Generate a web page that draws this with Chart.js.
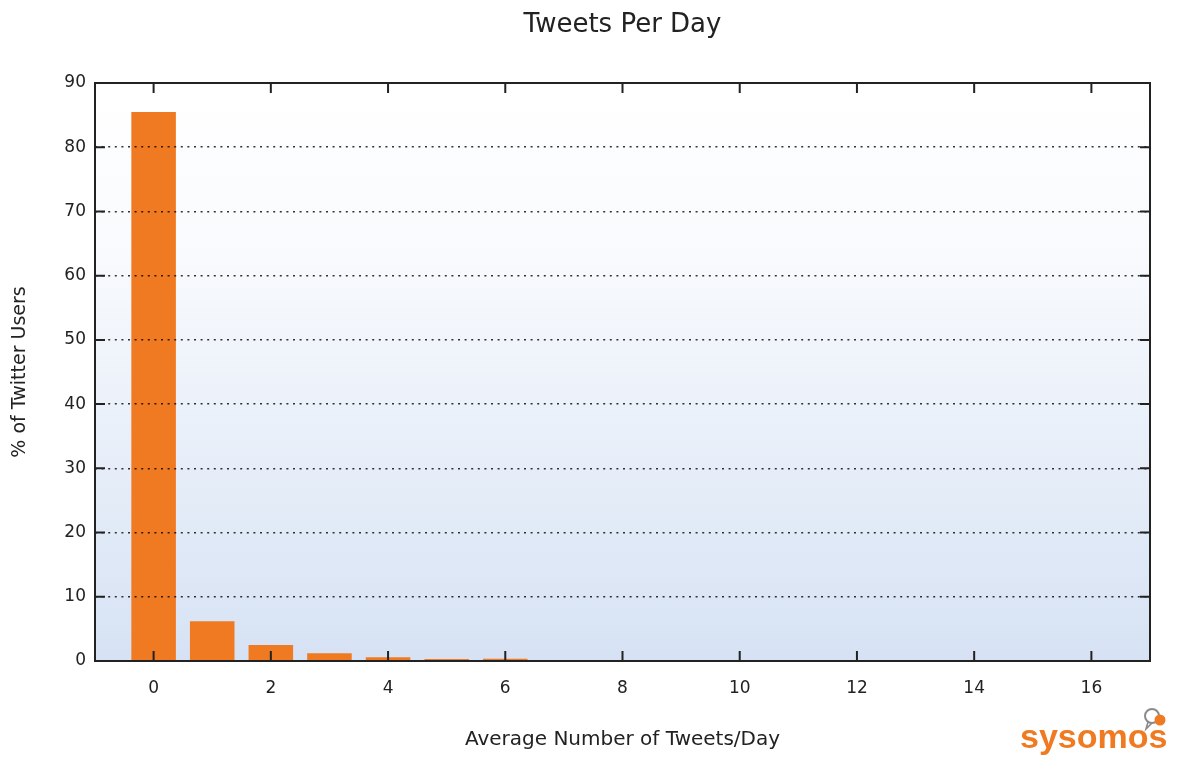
<!DOCTYPE html>
<html>
<head>
<meta charset="utf-8">
<script src="https://cdn.jsdelivr.net/npm/chart.js@4/dist/chart.umd.min.js"></script>
<style>
  html, body { margin: 0; padding: 0; background: #ffffff; }
  #wrap { position: relative; width: 1179px; height: 771px; }
  #logo { position: absolute; left: 1020px; top: 716px; font-family: "Liberation Sans", Arial, sans-serif; font-weight: bold; font-size: 34px; color: #F07A22; line-height: 40px; }
  #bubble { position: absolute; left: 1141px; top: 706px; }
</style>
</head>
<body>
<div id="wrap">
  <canvas id="c" width="1179" height="771"></canvas>
  <svg id="bubble" width="30" height="28" viewBox="0 0 30 28">
    <circle cx="11" cy="10" r="7" fill="none" stroke="#8a8a8a" stroke-width="2"/>
    <path d="M7 16 L5 23 L11 17" fill="none" stroke="#8a8a8a" stroke-width="1.6"/>
    <circle cx="19" cy="14" r="5.5" fill="#F07A22"/>
  </svg>
  <div id="logo">sysomos</div>
</div>
<script>
// ---- data ----
const tweetsPerDay = [0, 1, 2, 3, 4, 5, 6];
const pctUsers = [85.5, 6.2, 2.5, 1.2, 0.6, 0.3, 0.35];
const xTickValues = [0, 2, 4, 6, 8, 10, 12, 14, 16];
const yTickValues = [0, 10, 20, 30, 40, 50, 60, 70, 80, 90];
const chartTitle = 'Tweets Per Day';
const xTitle = 'Average Number of Tweets/Day';
const yTitle = '% of Twitter Users';

const FONT = '"DejaVu Sans", "Open Sans", sans-serif';

const framePlugin = {
  id: 'frame',
  beforeDraw(chart) {
    const {ctx, chartArea: a} = chart;
    const g = ctx.createLinearGradient(0, a.top, 0, a.bottom);
    g.addColorStop(0, '#ffffff');
    g.addColorStop(0.3, '#f8fafd');
    g.addColorStop(1, '#d6e2f4');
    ctx.save();
    ctx.fillStyle = g;
    ctx.fillRect(a.left, a.top, a.right - a.left, a.bottom - a.top);
    ctx.restore();
  },
  afterDraw(chart) {
    const {ctx, chartArea: a, scales} = chart;
    ctx.save();
    ctx.strokeStyle = '#222';
    ctx.lineWidth = 2;
    ctx.setLineDash([]);
    ctx.strokeRect(a.left, a.top, a.right - a.left, a.bottom - a.top);
    const L = 10;
    ctx.beginPath();
    scales.x.ticks.forEach(t => {
      const px = scales.x.getPixelForValue(t.value);
      ctx.moveTo(px, a.bottom); ctx.lineTo(px, a.bottom - L);
      ctx.moveTo(px, a.top); ctx.lineTo(px, a.top + L);
    });
    scales.y.ticks.forEach(t => {
      const py = scales.y.getPixelForValue(t.value);
      ctx.moveTo(a.left, py); ctx.lineTo(a.left + L, py);
      ctx.moveTo(a.right, py); ctx.lineTo(a.right - L, py);
    });
    ctx.stroke();
    ctx.restore();
  }
};

new Chart(document.getElementById('c'), {
  type: 'bar',
  data: {
    datasets: [{
      data: tweetsPerDay.map((x, i) => ({x: x, y: pctUsers[i]})),
      backgroundColor: '#F07A22',
      borderWidth: 0,
      barPercentage: 0.76,
      categoryPercentage: 1
    }]
  },
  options: {
    responsive: false,
    animation: false,
    layout: { padding: { left: 0, right: 29, top: 0, bottom: 0 } },
    plugins: {
      legend: { display: false },
      tooltip: { enabled: false },
      title: {
        display: true,
        fullSize: false,
        text: chartTitle,
        color: '#222',
        font: { family: FONT, size: 26, weight: 'normal' },
        padding: { top: 10, bottom: 41.8 }
      }
    },
    scales: {
      x: {
        type: 'linear',
        min: -1,
        max: 17,
        offset: false,
        grid: { display: false, offset: false, drawTicks: false },
        border: { display: false },
        afterBuildTicks: s => { s.ticks = xTickValues.map(v => ({value: v})); },
        afterFit: s => { s.height = 110; },
        ticks: { color: '#222', font: { family: FONT, size: 17 }, padding: 17, maxRotation: 0 },
        title: { display: true, text: xTitle, color: '#222', font: { family: FONT, size: 20 }, padding: { top: 0, bottom: 19 } }
      },
      y: {
        min: 0,
        max: 90,
        afterBuildTicks: s => { s.ticks = yTickValues.map(v => ({value: v})); },
        afterFit: s => { s.width = 95; },
        grid: { drawTicks: false, color: 'rgba(0,0,0,0.8)', lineWidth: 1.6, z: 1 },
        border: { display: false, dash: [2, 4.6] },
        ticks: { color: '#222', font: { family: FONT, size: 17 }, padding: 9 },
        title: { display: true, text: yTitle, color: '#222', font: { family: FONT, size: 19 }, padding: { top: 9, bottom: 0 } }
      }
    }
  },
  plugins: [framePlugin]
});
</script>
</body>
</html>
